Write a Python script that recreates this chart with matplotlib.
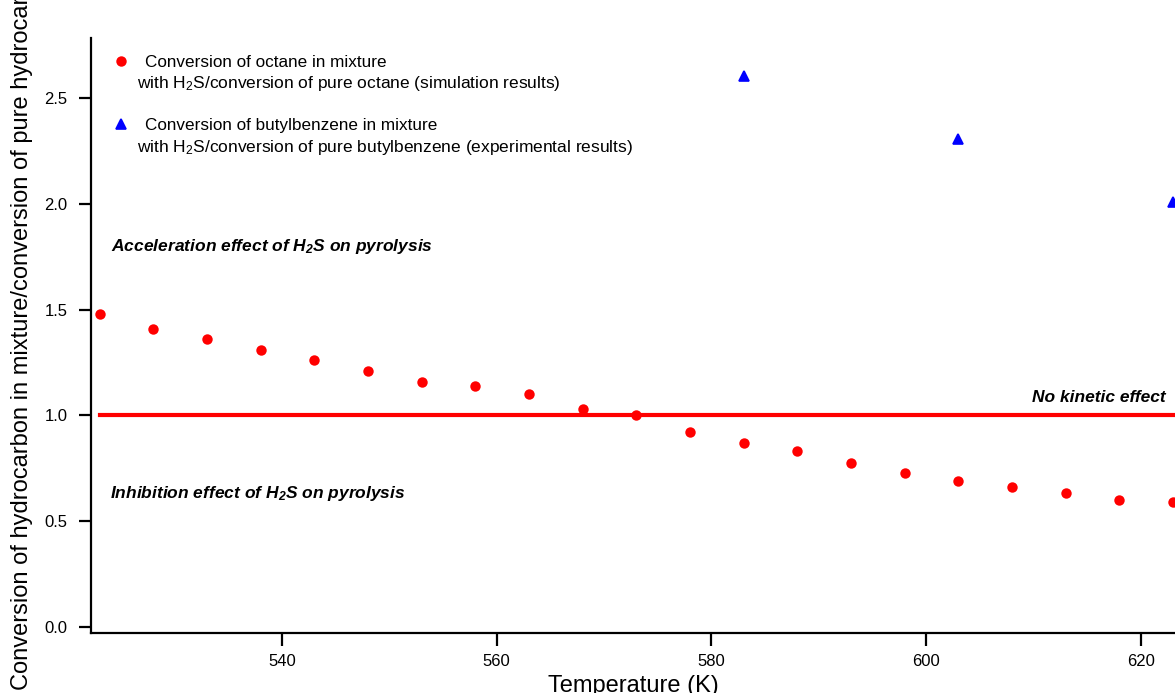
import matplotlib
matplotlib.use("Agg")
import matplotlib.pyplot as plt

plt.rcParams['font.family'] = ['Liberation Sans', 'DejaVu Sans']
plt.rcParams['mathtext.fontset'] = 'custom'
plt.rcParams['mathtext.rm'] = 'Liberation Sans'
plt.rcParams['mathtext.it'] = 'Liberation Sans:italic'
plt.rcParams['mathtext.bf'] = 'Liberation Sans:bold:italic'

# octane (simulation)
temp_oct = [523, 528, 533, 538, 543, 548, 553, 558, 563, 568, 573,
            578, 583, 588, 593, 598, 603, 608, 613, 618, 623]
ratio_oct = [1.48, 1.41, 1.36, 1.31, 1.26, 1.21, 1.16, 1.14, 1.10, 1.03, 1.00,
             0.92, 0.87, 0.83, 0.775, 0.73, 0.69, 0.66, 0.635, 0.60, 0.59]

# butylbenzene (experimental)
temp_bb = [583, 603, 623]
ratio_bb = [2.605, 2.305, 2.01]

# no kinetic effect reference
ref_x = [523, 623]
ref_y = [1.0, 1.0]

xticks = [540, 560, 580, 600, 620]
yticks = [0.0, 0.5, 1.0, 1.5, 2.0, 2.5]

fig = plt.figure(figsize=(11.75, 6.93), dpi=100)
ax = fig.add_axes([91/1175, 60/693, 1 - 91/1175, 595/693])

ax.plot(ref_x, ref_y, color='#ff0000', linewidth=3, solid_capstyle='projecting', zorder=2)
ax.plot(temp_oct, ratio_oct, linestyle='none', marker='o', markersize=7.5,
        color='#ff0000', markeredgewidth=0, zorder=3,
        label='Conversion of octane in mixture')
ax.plot(temp_bb, ratio_bb, linestyle='none', marker='^', markersize=7.8,
        color='#0000ff', markeredgecolor='#0000ff', markeredgewidth=1.2,
        markerfacecolor='#0000ff', zorder=3,
        label='Conversion of butylbenzene in mixture')

ax.set_xlim(522.2, 623.2)
ax.set_ylim(-0.028, 2.783)
ax.set_xticks(xticks)
ax.set_yticks(yticks)
ax.set_yticklabels(['%.1f' % v for v in yticks])

for s in ['top', 'right']:
    ax.spines[s].set_visible(False)
for s in ['left', 'bottom']:
    ax.spines[s].set_linewidth(1.6)
ax.tick_params(axis='both', direction='out', length=9, width=1.6,
               labelsize=12, colors='black')
ax.tick_params(axis='x', pad=6)
ax.tick_params(axis='y', pad=8)

ax.set_xlabel('Temperature (K)', fontsize=17)
ax.xaxis.set_label_coords(0.5, -0.071)
fig.text(0.0185, 0.005,
         'Conversion of hydrocarbon in mixture/conversion of pure hydrocarbon',
         rotation=90, ha='center', va='bottom', fontsize=17)

# legend: first lines as legend entries, second lines as plain text
leg = ax.legend(loc='upper left', bbox_to_anchor=(0.0196, 0.9714), frameon=False,
                fontsize=12.3, handlelength=0.98, handletextpad=0.93,
                borderpad=0, borderaxespad=0, labelspacing=2.8, numpoints=1)
ax.text(0.0428, 0.9155, 'with H$_2$S/conversion of pure octane (simulation results)',
        transform=ax.transAxes, fontsize=12.5, va='baseline')
ax.text(0.0428, 0.8089, 'with H$_2$S/conversion of pure butylbenzene (experimental results)',
        transform=ax.transAxes, fontsize=12.5, va='baseline')

ax.text(524.1, 1.777, r'Acceleration effect of H$_\mathbf{2}$S on pyrolysis',
        fontsize=12.5, fontweight='bold', style='italic', va='baseline')
ax.text(523.95, 0.61, r'Inhibition effect of H$_\mathbf{2}$S on pyrolysis',
        fontsize=12.5, fontweight='bold', style='italic', va='baseline')
ax.text(622.3, 1.063, 'No kinetic effect',
        fontsize=12.5, fontweight='bold', style='italic', va='baseline', ha='right')

fig.savefig('out.png', dpi=100)
